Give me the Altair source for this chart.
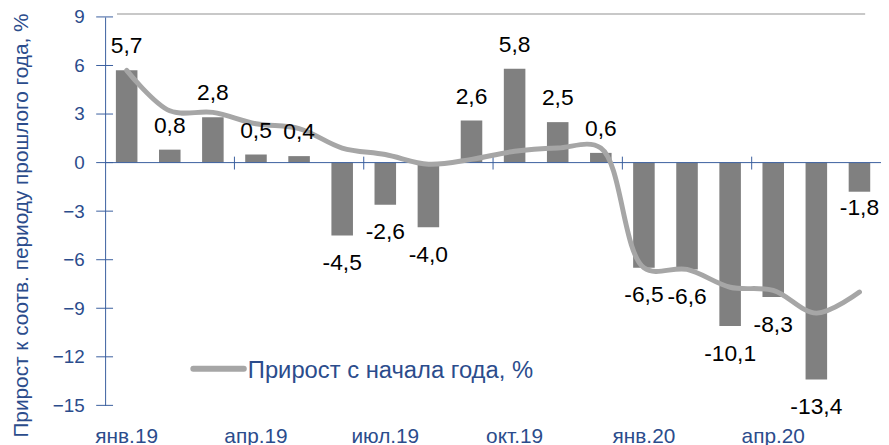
import altair as alt
import pandas as pd

months = ["янв.19", "фев.19", "мар.19", "апр.19", "май.19", "июн.19",
          "июл.19", "авг.19", "сен.19", "окт.19", "ноя.19", "дек.19",
          "янв.20", "фев.20", "мар.20", "апр.20", "май.20", "июн.20"]
yoy = [5.7, 0.8, 2.8, 0.5, 0.4, -4.5, -2.6, -4.0, 2.6, 5.8, 2.5, 0.6,
       -6.5, -6.6, -10.1, -8.3, -13.4, -1.8]
ytd = [5.7, 3.2, 3.1, 2.4, 2.1, 0.9, 0.5, -0.1, 0.2, 0.7, 0.9, 0.9,
       -6.5, -6.6, -7.7, -7.9, -9.3, -8.0]
shown_months = ["янв.19", "апр.19", "июл.19", "окт.19", "янв.20", "апр.20"]
quarter_starts = ["апр.19", "июл.19", "окт.19", "янв.20", "апр.20"]
y_ticks = [-15, -12, -9, -6, -3, 0, 3, 6, 9]
y_title = "Прирост к соотв. периоду прошлого года, %"
legend_label = "Прирост  с начала года, %"

df = pd.DataFrame({"month": months, "yoy": yoy, "ytd": ytd})
df["label"] = [f"{v:.1f}".replace(".", ",") for v in yoy]

W, H = 783, 392
FONT = "Liberation Sans"
BLUE_TEXT = "#2B4C8C"
BLUE_LINE = "#3A5E9E"
BAR = "#808080"
LINE = "#A6A6A6"

xscale = alt.Scale(domain=months, paddingInner=0, paddingOuter=0)
yscale = alt.Scale(domain=[-15, 9], nice=False, zero=False)

x_axis = alt.Axis(values=shown_months, title=None, domain=False, ticks=False, tickSize=0,
                  labelAngle=0, labelFont=FONT, labelFontSize=21, labelColor=BLUE_TEXT,
                  labelPadding=20, labelBaseline="top", grid=False)
y_axis = alt.Axis(values=y_ticks, title=y_title, domain=True, domainColor=BLUE_LINE,
                  domainWidth=1, ticks=False, tickSize=0, labelPadding=21,
                  labelFont=FONT, labelFontSize=19, labelColor=BLUE_TEXT, grid=False,
                  titleFont=FONT, titleFontSize=21, titleColor=BLUE_TEXT,
                  titleFontWeight="normal", titleAngle=270, titleX=-95, titleY=210,
                  titleBaseline="top", titleAlign="center")


def X(**kw):
    return alt.X("month:N", sort=months, scale=xscale, axis=x_axis, **kw)


def Y(field):
    return alt.Y(field, scale=yscale, axis=y_axis)


bars = alt.Chart(df).mark_bar(width=alt.RelativeBandSize(0.5), color=BAR).encode(
    x=X(), y=Y("yoy:Q"),
)

line = alt.Chart(df).mark_line(color=LINE, strokeWidth=5, interpolate="catmull-rom",
                               strokeCap="round").encode(
    x=X(), y=Y("ytd:Q"),
)


def labels(flt, dy):
    return alt.Chart(df).transform_filter(flt).mark_text(
        font=FONT, fontSize=23, color="black", baseline="middle", dy=dy
    ).encode(x=X(), y=Y("yoy:Q"), text="label:N")


lab_pos = labels("datum.yoy >= 0", -24)
lab_neg = labels("datum.yoy < -2", 28)
lab_small = labels("datum.yoy < 0 && datum.yoy >= -2", 16)

zero_df = pd.DataFrame({"v": [0]})
zero_line = alt.Chart(zero_df).mark_rule(color=BLUE_LINE, strokeWidth=1).encode(
    y=Y("v:Q"), x=alt.value(0), x2=alt.value(W + 6),
)

q_df = pd.DataFrame({"month": quarter_starts, "z": [0] * len(quarter_starts)})
q_ticks = alt.Chart(q_df).mark_rule(color=BLUE_LINE, strokeWidth=1, yOffset=-6,
                                    y2Offset=7).encode(
    x=X(bandPosition=0), y=Y("z:Q"), y2=alt.Y2("z"),
)

yt_df = pd.DataFrame({"v": y_ticks})
y_cross = alt.Chart(yt_df).mark_rule(color=BLUE_LINE, strokeWidth=1).encode(
    y=Y("v:Q"), x=alt.value(-9), x2=alt.value(8),
)

top_rule = alt.Chart(zero_df).mark_rule(color="#C8C8C8", strokeWidth=2).encode(
    x=alt.value(12), x2=alt.value(767), y=alt.value(-3),
)

leg_line = alt.Chart(zero_df).mark_rule(color=LINE, strokeWidth=6, strokeCap="round").encode(
    x=alt.value(89), x2=alt.value(140), y=alt.value(355),
)
leg_text = alt.Chart(pd.DataFrame({"t": [legend_label]})).mark_text(
    align="left", baseline="middle", font=FONT, fontSize=24, color=BLUE_TEXT
).encode(x=alt.value(144), y=alt.value(357), text="t:N")

chart = alt.layer(
    bars, top_rule, zero_line, q_ticks, y_cross, line,
    lab_pos, lab_neg, lab_small, leg_line, leg_text,
).properties(
    width=W, height=H,
    autosize=alt.AutoSizeParams(type="none"),
    padding={"left": 98, "top": 7, "right": 0, "bottom": 40},
    background="white",
).configure_view(stroke=None)

chart.save("out.html", embed_options={"renderer": "svg", "actions": False})
